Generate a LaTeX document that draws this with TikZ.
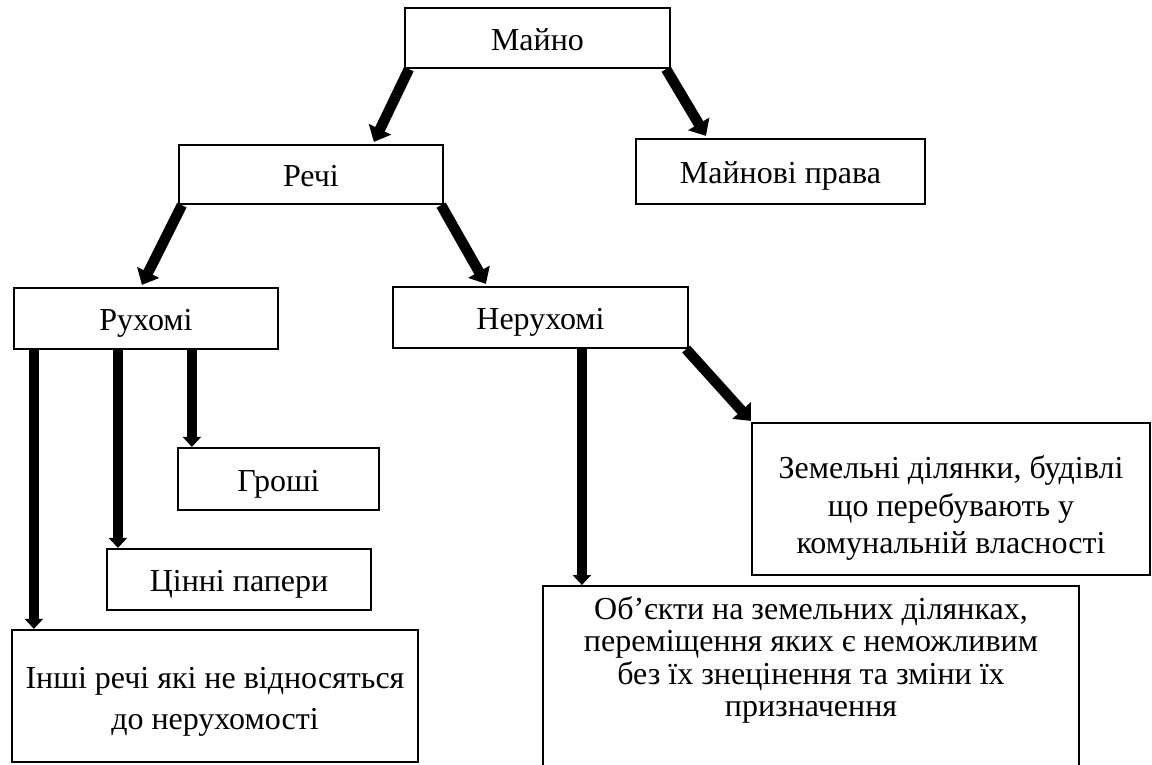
\documentclass[tikz,border=0pt]{standalone}
\usepackage{fontspec}
\setmainfont{Liberation Serif}
\usetikzlibrary{arrows.meta,calc}
\begin{document}
\begin{tikzpicture}[x=1pt,y=-1pt,
  box/.style={draw,line width=2.2pt,align=center,font=\fontsize{32}{37}\selectfont,inner sep=0pt},
  one/.style={text height=24pt,text depth=0pt},
  txt/.style={align=center,inner sep=0pt},
  arr/.style={line width=10.5pt,-{Triangle[width=24pt,length=14pt]}},
  varr/.style={line width=10pt,-{Triangle[width=18pt,length=10pt]}}]
\useasboundingbox (0,0) rectangle (1152,765);
\clip (0,0) rectangle (1152,765);
\fill[white] (0,0) rectangle (1152,765);

\node[box,one,text height=26pt,minimum width=265pt,minimum height=60pt] (mayno) at (537.5,38) {Майно};
\node[box,one,minimum width=264pt,minimum height=59pt] (rechi) at (311,174.5) {Речі};
\node[box,one,minimum width=289pt,minimum height=65pt] (prava) at (780.5,171.5) {Майнові права};
\node[box,one,minimum width=264pt,minimum height=61pt] (ruh) at (146,318.5) {Рухомі};
\node[box,one,minimum width=295pt,minimum height=61pt] (neruh) at (540.5,317.5) {Нерухомі};
\node[box,one,minimum width=201pt,minimum height=62pt] (groshi) at (278.5,479) {Гроші};
\node[box,one,minimum width=264pt,minimum height=61pt] (papery) at (239,579.5) {Цінні папери};
\node[box,minimum width=406pt,minimum height=132pt] (inshi) at (215,696) {};
\node[txt,font=\fontsize{32}{41}\selectfont] (inshitext) at ([yshift=-6pt]inshi.center) {Інші речі які не відносяться\\до нерухомості};
\node[box,minimum width=398pt,minimum height=152pt] (zem) at (951,499) {};
\node[txt,font=\fontsize{32}{37.5}\selectfont] (zemtext) at ([yshift=-9pt]zem.center) {Земельні ділянки, будівлі\\що перебувають у\\комунальній власності};
\node[box,minimum width=536pt,minimum height=220pt,anchor=north] (obj) at (811,585) {};
\node[txt,anchor=north,font=\fontsize{32}{32.5}\selectfont] (objtext) at ([yshift=-11pt]obj.north) {Об’єкти на земельних ділянках,\\переміщення яких є неможливим\\без їх знецінення та зміни їх\\призначення};

\draw[arr] ([xshift=5pt]mayno.south west) -- ([xshift=196pt,yshift=2pt]rechi.north west);
\draw[arr] ([xshift=-5pt]mayno.south east) -- ([xshift=71pt,yshift=2pt]prava.north west);
\draw[arr] ([xshift=4pt]rechi.south west) -- ([xshift=129pt,yshift=2pt]ruh.north west);
\draw[arr] ([xshift=-3pt]rechi.south east) -- ([xshift=94pt,yshift=2pt]neruh.north west);
\draw[arr] ([xshift=-3pt]neruh.south east) -- ([yshift=1pt]zem.north west);
\draw[varr] ([xshift=190pt]neruh.south west) coordinate (n1) -- (n1 |- obj.north);
\draw[varr] ([xshift=179pt]ruh.south west) coordinate (r3) -- (r3 |- groshi.north);
\draw[varr] ([xshift=105pt]ruh.south west) coordinate (r2) -- (r2 |- papery.north);
\draw[varr] ([xshift=21pt]ruh.south west) coordinate (r1) -- (r1 |- inshi.north);
\end{tikzpicture}
\end{document}
